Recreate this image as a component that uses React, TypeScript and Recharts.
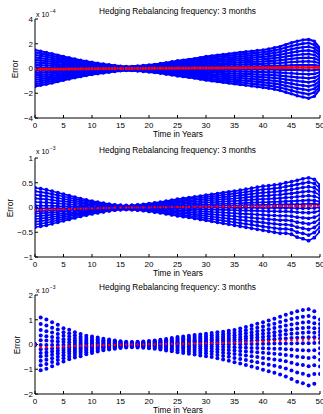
import React from 'react';
import { ComposedChart, Line, XAxis, YAxis } from 'recharts';

// ---------- data ----------
const years = [0,1,2,3,4,5,6,7,8,9,10,11,12,13,14,15,16,17,18,19,20,21,22,23,24,25,26,27,28,29,30,31,32,33,34,35,36,37,38,39,40,41,42,43,44,45,46,47,48,49,50];
const xTicks = [0,5,10,15,20,25,30,35,40,45,50];

// Panel 1 (units of 1e-4)
const p1Upper = [1.5,1.4,1.3,1.2,1.08,0.97,0.87,0.77,0.67,0.58,0.5,0.43,0.37,0.3,0.24,0.19,0.16,0.17,0.2,0.24,0.28,0.33,0.4,0.47,0.55,0.63,0.68,0.74,0.8,0.88,0.97,1.02,1.08,1.13,1.18,1.24,1.3,1.35,1.4,1.45,1.5,1.58,1.68,1.77,1.93,2.08,2.2,2.3,2.35,2.2,1.65];
const p1Lower = [-1.45,-1.36,-1.27,-1.17,-1.06,-0.95,-0.85,-0.75,-0.66,-0.57,-0.49,-0.42,-0.36,-0.3,-0.24,-0.19,-0.16,-0.17,-0.2,-0.24,-0.28,-0.33,-0.39,-0.46,-0.53,-0.6,-0.66,-0.72,-0.78,-0.86,-0.94,-1.0,-1.06,-1.12,-1.18,-1.24,-1.3,-1.36,-1.42,-1.48,-1.54,-1.6,-1.68,-1.77,-1.92,-2.05,-2.2,-2.3,-2.4,-2.25,-1.66];
const p1Mean = [-0.05,-0.06,-0.06,-0.05,-0.05,-0.05,-0.04,-0.04,-0.03,-0.03,-0.02,-0.02,-0.01,-0.01,0,0,0,0,0.01,0.01,0.01,0.02,0.02,0.02,0.03,0.03,0.03,0.03,0.04,0.04,0.04,0.04,0.05,0.05,0.05,0.05,0.05,0.06,0.06,0.06,0.06,0.07,0.07,0.07,0.07,0.08,0.08,0.08,0.08,0.08,0.08];
const p1Levels = [1,0.87,0.74,0.61,0.48,0.35,0.22,0.09,-0.09,-0.22,-0.35,-0.48,-0.61,-0.74,-0.87,-1];
const p1YTicks = [-4,-2,0,2,4];

// Panel 2 (units of 1e-3)
const p2Upper = [0.4,0.38,0.36,0.33,0.3,0.27,0.24,0.21,0.18,0.155,0.13,0.11,0.09,0.07,0.055,0.045,0.04,0.045,0.055,0.065,0.08,0.095,0.11,0.13,0.15,0.17,0.185,0.2,0.215,0.23,0.25,0.265,0.28,0.3,0.315,0.33,0.35,0.37,0.39,0.41,0.43,0.44,0.455,0.47,0.5,0.52,0.55,0.58,0.6,0.57,0.45];
const p2Lower = [-0.4,-0.38,-0.36,-0.33,-0.3,-0.27,-0.24,-0.21,-0.18,-0.155,-0.13,-0.11,-0.09,-0.07,-0.055,-0.045,-0.04,-0.045,-0.055,-0.065,-0.08,-0.095,-0.11,-0.13,-0.15,-0.17,-0.185,-0.2,-0.22,-0.24,-0.26,-0.28,-0.3,-0.32,-0.34,-0.36,-0.38,-0.4,-0.42,-0.44,-0.46,-0.48,-0.5,-0.52,-0.52,-0.54,-0.6,-0.63,-0.67,-0.61,-0.48];
const p2Mean = [-0.05,-0.05,-0.045,-0.04,-0.04,-0.035,-0.03,-0.03,-0.025,-0.02,-0.02,-0.015,-0.01,-0.01,-0.005,0,0,0,0,0,0,0.005,0.005,0.005,0.01,0.01,0.01,0.01,0.015,0.015,0.015,0.015,0.02,0.02,0.02,0.02,0.02,0.025,0.025,0.025,0.025,0.025,0.03,0.03,0.03,0.03,0.03,0.03,0.035,0.035,0.035];
const p2Levels = [1,0.84,0.68,0.52,0.36,0.2,0.07,-0.07,-0.2,-0.36,-0.52,-0.68,-0.84,-1];
const p2YTicks = [-1,-0.5,0,0.5,1];

// Panel 3 (units of 1e-3)
const p3Upper = [0,1.09,1.01,0.9,0.8,0.66,0.6,0.5,0.42,0.35,0.32,0.28,0.23,0.2,0.16,0.13,0.11,0.1,0.11,0.12,0.14,0.16,0.19,0.22,0.26,0.3,0.32,0.35,0.38,0.4,0.43,0.46,0.49,0.52,0.56,0.59,0.65,0.71,0.77,0.84,0.9,0.97,1.04,1.12,1.2,1.27,1.34,1.39,1.42,1.34,1.01];
const p3Lower = [0,-1.04,-0.98,-0.88,-0.78,-0.69,-0.6,-0.53,-0.47,-0.39,-0.34,-0.28,-0.23,-0.2,-0.17,-0.14,-0.12,-0.11,-0.12,-0.13,-0.15,-0.17,-0.2,-0.24,-0.27,-0.31,-0.34,-0.37,-0.4,-0.44,-0.47,-0.51,-0.56,-0.61,-0.66,-0.72,-0.77,-0.83,-0.89,-0.95,-1.02,-1.08,-1.14,-1.21,-1.29,-1.39,-1.5,-1.57,-1.66,-1.59,-1.19];
const p3Mean = [0,-0.12,-0.11,-0.1,-0.09,-0.08,-0.07,-0.06,-0.05,-0.05,-0.04,-0.03,-0.03,-0.02,-0.02,-0.01,-0.01,0,0,0,0.01,0.01,0.02,0.02,0.02,0.03,0.03,0.03,0.04,0.04,0.05,0.05,0.06,0.06,0.07,0.08,0.08,0.09,0.1,0.11,0.12,0.13,0.14,0.15,0.16,0.17,0.18,0.19,0.2,0.2,0.18];
const p3Levels = [1,0.78,0.58,0.4,0.24,0.08,-0.08,-0.24,-0.4,-0.58,-0.78,-1];
const p3YTicks = [-2,-1,0,1,2];

const originT = 0;
const originV = 0;

const titleText = 'Hedging Rebalancing frequency: 3 months';
const xLabelText = 'Time in Years';
const yLabelText = 'Error';

// ---------- table building ----------
function buildRows(upper: number[], lower: number[], mean: number[], levels: number[]) {
  return years.map((t, i) => {
    const row: any = { t, mean: mean[i], o: t === originT ? originV : null };
    levels.forEach((f, k) => {
      row['l' + k] = f >= 0 ? mean[i] + f * (upper[i] - mean[i]) : mean[i] + -f * (lower[i] - mean[i]);
    });
    return row;
  });
}

const rows1 = buildRows(p1Upper, p1Lower, p1Mean, p1Levels);
const rows2 = buildRows(p2Upper, p2Lower, p2Mean, p2Levels);
const rows3 = buildRows(p3Upper, p3Lower, p3Mean, p3Levels);

// ---------- layout ----------
const FONT = '"Liberation Sans", Arial, Helvetica, sans-serif';
const W = 323;
const H = 140;
const PT = 19;
const XH = 22;
const BLUE = '#0000ff';
const RED = '#ff0000';

const fmt = (v: number) => String(v).replace('-', '\u2212');

type PanelProps = {
  top: number;
  rows: any[];
  levels: number[];
  yDomain: [number, number];
  yTicks: number[];
  exponent: string;
  expDy: number;
  errorX: number;
  lineW: number;
  dotR: number;
  mode: number;
};

function Panel(p: PanelProps) {
  const tickStyle = { fontSize: 8, fill: '#000', fontFamily: FONT };
  const plotBottom = H - XH;
  return (
    <div style={{ position: 'absolute', left: 0, top: p.top, width: W, height: H }}>
      <ComposedChart width={W} height={H} data={p.rows} margin={{ top: PT, right: 3, bottom: 0, left: 5 }}>
        <XAxis dataKey="t" type="number" domain={[0, 50]} ticks={xTicks} interval={0} height={XH}
          tickSize={-3} tickMargin={7} stroke="#000" tick={tickStyle} allowDataOverflow />
        <XAxis xAxisId="top" orientation="top" dataKey="t" type="number" domain={[0, 50]} ticks={xTicks}
          interval={0} height={0} tickSize={-3} tick={false} stroke="#000" allowDataOverflow />
        <YAxis type="number" domain={p.yDomain} ticks={p.yTicks} interval={0} width={30} tickSize={-3}
          tickMargin={5} stroke="#000" tick={tickStyle} tickFormatter={fmt} allowDataOverflow />
        <YAxis yAxisId="right" orientation="right" type="number" domain={p.yDomain} ticks={p.yTicks}
          interval={0} width={0} tickSize={-3} tick={false} stroke="#000" allowDataOverflow />
        {p.levels.map((f, k) => (
          <Line key={k} dataKey={'l' + k} isAnimationActive={false} activeDot={false}
            stroke={p.mode === 3 ? 'none' : BLUE} strokeWidth={p.lineW}
            dot={{ r: p.dotR, fill: BLUE, stroke: BLUE, strokeWidth: 0 }} />
        ))}
        {p.mode !== 3 && (
          <Line dataKey="o" isAnimationActive={false} activeDot={false} stroke="none"
            dot={{ r: 2.3, fill: BLUE, stroke: BLUE, strokeWidth: 0 }} />
        )}
        {p.mode === 1 && (
          <Line dataKey="mean" isAnimationActive={false} activeDot={false} stroke={RED} strokeWidth={2.6}
            dot={{ r: 1.7, fill: RED, stroke: RED, strokeWidth: 0 }} />
        )}
        {p.mode === 2 && (
          <Line dataKey="mean" isAnimationActive={false} activeDot={false} stroke={RED} strokeWidth={1.8}
            strokeDasharray="2 1.2" dot={{ r: 1.3, fill: RED, stroke: RED, strokeWidth: 0 }} />
        )}
        {p.mode === 3 && (
          <Line dataKey="mean" isAnimationActive={false} activeDot={false} stroke="none"
            dot={{ r: 1.2, fill: RED, stroke: RED, strokeWidth: 0 }} />
        )}
      </ComposedChart>
      <div style={{ position: 'absolute', left: 177.5, top: PT - 12.5, transform: 'translateX(-50%)', fontSize: 8.3, lineHeight: '9px', whiteSpace: 'nowrap', color: '#000' }}>
        {titleText}
      </div>
      <div style={{ position: 'absolute', left: 178, top: 129.5, transform: 'translateX(-50%)', fontSize: 8.3, lineHeight: '9px', whiteSpace: 'nowrap', color: '#000' }}>
        {xLabelText}
      </div>
      <div style={{ position: 'absolute', left: p.errorX, top: PT + (plotBottom - PT) / 2, transform: 'translate(-50%, -50%) rotate(-90deg)', fontSize: 8.3, lineHeight: '9px', whiteSpace: 'nowrap', color: '#000' }}>
        {yLabelText}
      </div>
      <div style={{ position: 'absolute', left: 36, top: PT - 8.5 + p.expDy, fontSize: 7, lineHeight: '7px', whiteSpace: 'nowrap', color: '#000' }}>
        x 10<span style={{ fontSize: 5, position: 'relative', top: -4, marginLeft: 0.5 }}>{p.exponent}</span>
      </div>
    </div>
  );
}

export default function App() {
  return (
    <div style={{ position: 'absolute', left: 0, top: 0, width: W, height: 414, background: '#fff', fontFamily: FONT, overflow: 'hidden' }}>
      <Panel top={0} rows={rows1} levels={p1Levels} yDomain={[-4, 4]} yTicks={p1YTicks} exponent={'\u22124'} expDy={0}
        errorX={15} lineW={2.1} dotR={1.7} mode={1} />
      <Panel top={139} rows={rows2} levels={p2Levels} yDomain={[-1, 1]} yTicks={p2YTicks} exponent={'\u22123'} expDy={-1.5}
        errorX={10} lineW={1.6} dotR={1.9} mode={2} />
      <Panel top={276} rows={rows3} levels={p3Levels} yDomain={[-2, 2]} yTicks={p3YTicks} exponent={'\u22123'} expDy={0}
        errorX={16.7} lineW={0} dotR={2} mode={3} />
    </div>
  );
}
